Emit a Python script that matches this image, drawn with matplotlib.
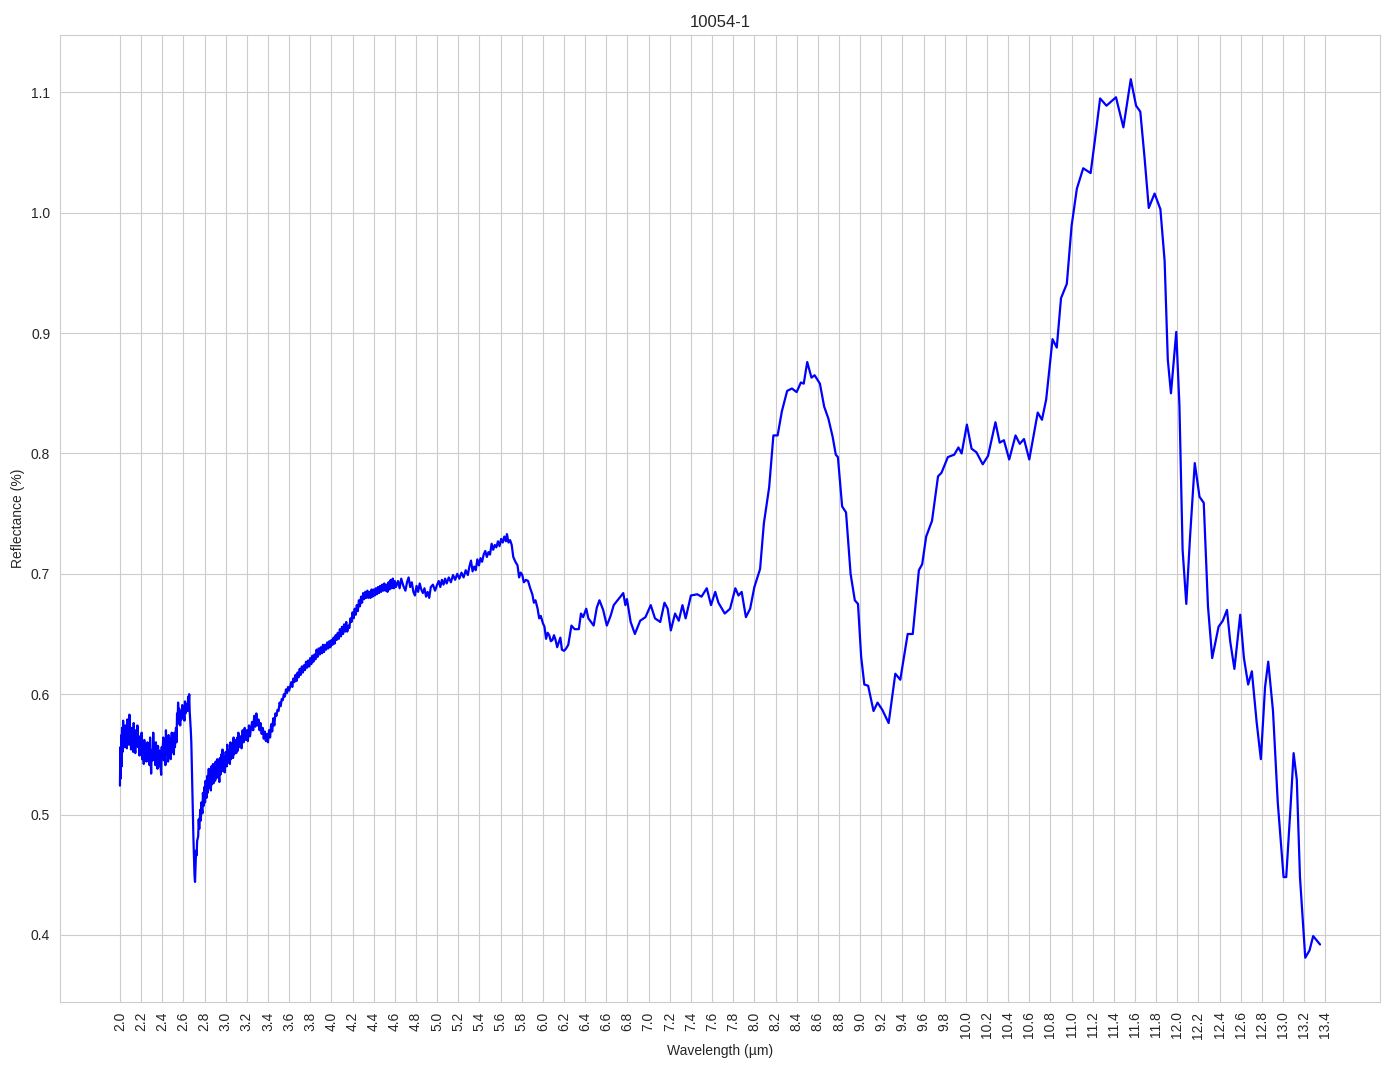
import numpy as np
import matplotlib
matplotlib.use("Agg")
import matplotlib.pyplot as plt
import seaborn as sns

# sample 10054-1, reflectance spectrum
# (wavelength um, reflectance) pairs, split by region
swir_noisy = [
    (2.000, 0.524), (2.004, 0.556), (2.008, 0.530), (2.012, 0.566), (2.016, 0.540),
    (2.020, 0.572), (2.025, 0.552), (2.030, 0.578), (2.035, 0.560), (2.040, 0.570),
    (2.045, 0.556), (2.050, 0.574), (2.055, 0.562), (2.060, 0.568), (2.065, 0.555),
    (2.070, 0.579), (2.075, 0.563), (2.080, 0.571), (2.085, 0.558), (2.090, 0.583),
    (2.095, 0.560), (2.100, 0.566), (2.105, 0.554), (2.110, 0.572), (2.115, 0.561),
    (2.120, 0.568), (2.125, 0.552), (2.130, 0.576), (2.135, 0.560), (2.140, 0.565),
    (2.145, 0.551), (2.150, 0.570), (2.160, 0.558), (2.165, 0.574), (2.170, 0.556),
    (2.180, 0.565), (2.185, 0.549), (2.190, 0.562), (2.200, 0.552), (2.205, 0.568),
    (2.210, 0.546), (2.220, 0.560), (2.225, 0.542), (2.230, 0.562), (2.240, 0.550),
    (2.245, 0.558), (2.250, 0.544), (2.260, 0.560), (2.265, 0.545), (2.270, 0.556),
    (2.280, 0.541), (2.285, 0.564), (2.290, 0.548), (2.295, 0.534), (2.300, 0.553),
    (2.310, 0.545), (2.315, 0.568), (2.320, 0.550), (2.330, 0.556), (2.335, 0.541),
    (2.340, 0.560), (2.350, 0.544), (2.355, 0.538), (2.360, 0.557), (2.370, 0.540),
    (2.375, 0.553), (2.380, 0.545), (2.390, 0.533), (2.395, 0.556), (2.400, 0.548),
    (2.410, 0.564), (2.415, 0.545), (2.420, 0.557), (2.430, 0.541), (2.435, 0.570),
    (2.440, 0.550), (2.450, 0.562), (2.455, 0.544), (2.460, 0.566), (2.470, 0.549),
    (2.475, 0.563), (2.480, 0.546), (2.490, 0.568), (2.495, 0.552), (2.500, 0.566),
    (2.510, 0.550), (2.515, 0.568), (2.520, 0.556), (2.530, 0.572), (2.535, 0.560),
    (2.540, 0.584), (2.545, 0.575), (2.550, 0.593), (2.555, 0.578), (2.560, 0.588),
    (2.570, 0.574), (2.575, 0.586), (2.580, 0.579), (2.590, 0.591), (2.595, 0.580),
    (2.600, 0.588), (2.610, 0.578), (2.615, 0.594), (2.620, 0.584), (2.630, 0.592),
    (2.640, 0.586), (2.645, 0.598), (2.650, 0.590), (2.655, 0.600), (2.660, 0.585),
    (2.670, 0.570), (2.675, 0.560), (2.685, 0.520), (2.695, 0.480), (2.705, 0.450),
    (2.710, 0.444),
]

recovery = [
    (2.715, 0.458), (2.720, 0.470), (2.725, 0.466), (2.730, 0.478), (2.740, 0.482),
    (2.745, 0.496), (2.750, 0.488), (2.760, 0.504), (2.765, 0.495), (2.770, 0.510),
    (2.780, 0.501), (2.785, 0.518), (2.790, 0.507), (2.800, 0.523), (2.805, 0.510),
    (2.810, 0.528), (2.820, 0.514), (2.825, 0.532), (2.830, 0.518), (2.840, 0.538),
    (2.845, 0.522), (2.850, 0.532), (2.860, 0.520), (2.865, 0.540), (2.870, 0.525),
    (2.880, 0.542), (2.885, 0.526), (2.890, 0.538), (2.900, 0.528), (2.905, 0.544),
    (2.910, 0.530), (2.920, 0.546), (2.925, 0.531), (2.930, 0.542), (2.940, 0.527),
    (2.945, 0.547), (2.950, 0.533), (2.960, 0.550), (2.965, 0.536), (2.970, 0.554),
    (2.980, 0.538), (2.985, 0.548), (2.990, 0.535), (3.000, 0.552), (3.010, 0.540),
    (3.015, 0.558), (3.020, 0.543), (3.030, 0.553), (3.040, 0.542), (3.045, 0.560),
    (3.050, 0.546), (3.060, 0.558), (3.070, 0.547), (3.075, 0.564), (3.080, 0.550),
    (3.090, 0.562), (3.100, 0.551), (3.110, 0.564), (3.115, 0.553), (3.120, 0.568),
    (3.130, 0.556), (3.140, 0.565), (3.150, 0.555), (3.160, 0.570), (3.170, 0.560),
    (3.180, 0.572), (3.190, 0.562), (3.200, 0.570), (3.210, 0.561), (3.220, 0.574),
    (3.230, 0.565), (3.240, 0.572), (3.250, 0.577), (3.260, 0.570), (3.270, 0.582),
    (3.280, 0.573), (3.290, 0.584), (3.300, 0.574), (3.310, 0.579), (3.320, 0.570),
    (3.330, 0.576), (3.340, 0.567), (3.350, 0.572), (3.360, 0.563), (3.370, 0.569),
    (3.380, 0.561), (3.390, 0.567), (3.400, 0.560),
]

rise = [
    (3.410, 0.570), (3.420, 0.564), (3.430, 0.575), (3.440, 0.569), (3.450, 0.580),
    (3.460, 0.574), (3.470, 0.584), (3.480, 0.582), (3.490, 0.587), (3.500, 0.586),
    (3.510, 0.593), (3.520, 0.590), (3.530, 0.596), (3.540, 0.595), (3.550, 0.600),
    (3.560, 0.598), (3.570, 0.604), (3.580, 0.601), (3.590, 0.606), (3.600, 0.603),
    (3.620, 0.610), (3.630, 0.606), (3.640, 0.613), (3.650, 0.610), (3.660, 0.616),
    (3.670, 0.611), (3.680, 0.618), (3.690, 0.614), (3.700, 0.621), (3.710, 0.616),
    (3.720, 0.623), (3.730, 0.618), (3.740, 0.624), (3.750, 0.620), (3.760, 0.627),
    (3.770, 0.622), (3.780, 0.628), (3.790, 0.623), (3.800, 0.630), (3.810, 0.625),
    (3.820, 0.632), (3.830, 0.627), (3.840, 0.633), (3.850, 0.629), (3.860, 0.637),
    (3.870, 0.631), (3.880, 0.638), (3.890, 0.633), (3.900, 0.639), (3.910, 0.634),
    (3.920, 0.641), (3.930, 0.635), (3.940, 0.641), (3.950, 0.637), (3.960, 0.643),
    (3.970, 0.638), (3.980, 0.644), (3.990, 0.639), (4.000, 0.645), (4.010, 0.641),
    (4.020, 0.647), (4.030, 0.642), (4.040, 0.649), (4.050, 0.645), (4.060, 0.651),
    (4.070, 0.646), (4.080, 0.654), (4.090, 0.648), (4.100, 0.656), (4.110, 0.650),
    (4.120, 0.658), (4.130, 0.652), (4.140, 0.660), (4.150, 0.652), (4.160, 0.657),
    (4.170, 0.655), (4.180, 0.663), (4.190, 0.660), (4.200, 0.668), (4.210, 0.663),
    (4.220, 0.671), (4.230, 0.666), (4.240, 0.674), (4.250, 0.669), (4.260, 0.678),
    (4.270, 0.673), (4.280, 0.681), (4.290, 0.676), (4.300, 0.684), (4.310, 0.679),
    (4.320, 0.685), (4.330, 0.680), (4.340, 0.686), (4.350, 0.680), (4.360, 0.685),
    (4.370, 0.680), (4.380, 0.687), (4.390, 0.681), (4.400, 0.687), (4.410, 0.682),
    (4.420, 0.688), (4.430, 0.683), (4.440, 0.689), (4.450, 0.684), (4.460, 0.690),
    (4.470, 0.685), (4.480, 0.691), (4.490, 0.686), (4.500, 0.692), (4.510, 0.686),
    (4.520, 0.691), (4.530, 0.685), (4.540, 0.693), (4.550, 0.687), (4.560, 0.695),
    (4.570, 0.688), (4.580, 0.696), (4.590, 0.688), (4.600, 0.694),
]

plateau = [
    (4.610, 0.689), (4.630, 0.694), (4.645, 0.688), (4.660, 0.696), (4.680, 0.690),
    (4.700, 0.686), (4.715, 0.693), (4.730, 0.697), (4.745, 0.689), (4.760, 0.693),
    (4.775, 0.685), (4.790, 0.682), (4.805, 0.690), (4.820, 0.685), (4.835, 0.692),
    (4.850, 0.687), (4.865, 0.684), (4.880, 0.688), (4.895, 0.681), (4.910, 0.685),
    (4.925, 0.680), (4.940, 0.689), (4.960, 0.691), (4.980, 0.686), (5.000, 0.691),
    (5.015, 0.694), (5.030, 0.689), (5.045, 0.695), (5.060, 0.691), (5.075, 0.696),
    (5.090, 0.692), (5.110, 0.697), (5.130, 0.693), (5.150, 0.699), (5.170, 0.695),
    (5.190, 0.700), (5.210, 0.696), (5.230, 0.701), (5.250, 0.697), (5.270, 0.703),
    (5.290, 0.699), (5.305, 0.706), (5.320, 0.711), (5.335, 0.702), (5.350, 0.706),
    (5.365, 0.703), (5.380, 0.712), (5.395, 0.707), (5.410, 0.713), (5.425, 0.710),
    (5.440, 0.716), (5.455, 0.719), (5.470, 0.714), (5.485, 0.718), (5.500, 0.716),
    (5.515, 0.725), (5.530, 0.720), (5.545, 0.724), (5.560, 0.722), (5.575, 0.727),
    (5.590, 0.723), (5.605, 0.729), (5.620, 0.726), (5.635, 0.731), (5.650, 0.727),
    (5.660, 0.733), (5.675, 0.726), (5.690, 0.728), (5.705, 0.724), (5.720, 0.714),
    (5.740, 0.710), (5.760, 0.707), (5.775, 0.697), (5.790, 0.701), (5.805, 0.699),
    (5.820, 0.693), (5.840, 0.695), (5.860, 0.694), (5.880, 0.688), (5.900, 0.683),
    (5.915, 0.676), (5.930, 0.678), (5.950, 0.671), (5.965, 0.663), (5.980, 0.665),
    (6.000, 0.659), (6.015, 0.656), (6.030, 0.646), (6.045, 0.651), (6.060, 0.649),
    (6.075, 0.644), (6.090, 0.645), (6.105, 0.649), (6.120, 0.645), (6.135, 0.639),
    (6.150, 0.643), (6.165, 0.647), (6.180, 0.637), (6.200, 0.636), (6.220, 0.638),
    (6.240, 0.641),
]

midir = [
    (6.270, 0.657), (6.300, 0.654), (6.340, 0.654), (6.360, 0.667), (6.380, 0.664),
    (6.410, 0.671), (6.430, 0.663), (6.480, 0.657), (6.510, 0.672), (6.535, 0.678),
    (6.570, 0.670), (6.605, 0.657), (6.640, 0.665), (6.670, 0.674), (6.715, 0.679),
    (6.760, 0.684), (6.780, 0.674), (6.795, 0.679), (6.830, 0.660), (6.870, 0.650),
    (6.920, 0.661), (6.970, 0.664), (7.020, 0.674), (7.060, 0.663), (7.110, 0.660),
    (7.150, 0.676), (7.180, 0.671), (7.210, 0.653), (7.250, 0.667), (7.285, 0.661),
    (7.320, 0.674), (7.350, 0.663), (7.400, 0.682), (7.460, 0.683), (7.500, 0.681),
    (7.550, 0.688), (7.590, 0.674), (7.630, 0.685), (7.660, 0.676), (7.720, 0.667),
    (7.770, 0.671), (7.820, 0.688), (7.850, 0.682), (7.880, 0.685), (7.920, 0.664),
    (7.960, 0.671), (8.000, 0.689),
]

reststrahlen = [
    (8.054, 0.704), (8.090, 0.742), (8.140, 0.772), (8.180, 0.815), (8.220, 0.815),
    (8.260, 0.835), (8.310, 0.852), (8.355, 0.854), (8.400, 0.851), (8.440, 0.859),
    (8.467, 0.858), (8.500, 0.876), (8.540, 0.863), (8.570, 0.865), (8.620, 0.858),
    (8.660, 0.839), (8.700, 0.829), (8.740, 0.814), (8.770, 0.799), (8.790, 0.797),
    (8.830, 0.756), (8.867, 0.751), (8.910, 0.700), (8.950, 0.678), (8.980, 0.675),
    (9.010, 0.631), (9.040, 0.608), (9.076, 0.607), (9.127, 0.586), (9.165, 0.593),
    (9.210, 0.587), (9.270, 0.576), (9.333, 0.617), (9.380, 0.612), (9.450, 0.650),
    (9.498, 0.650), (9.556, 0.703), (9.587, 0.708), (9.625, 0.731), (9.680, 0.744),
    (9.737, 0.781), (9.770, 0.784), (9.830, 0.797), (9.890, 0.799), (9.930, 0.805),
    (9.960, 0.800), (10.010, 0.824), (10.054, 0.804), (10.100, 0.801), (10.160, 0.791),
    (10.210, 0.798), (10.280, 0.826), (10.320, 0.809), (10.360, 0.811), (10.410, 0.795),
    (10.470, 0.815), (10.510, 0.808), (10.550, 0.812), (10.600, 0.795), (10.680, 0.834),
    (10.720, 0.828),
]

far_ir = [
    (10.760, 0.845), (10.820, 0.895), (10.860, 0.888), (10.900, 0.929), (10.955, 0.941),
    (11.000, 0.989), (11.050, 1.020), (11.110, 1.037), (11.180, 1.033), (11.220, 1.060),
    (11.270, 1.095), (11.330, 1.089), (11.420, 1.096), (11.490, 1.071), (11.560, 1.111),
    (11.610, 1.089), (11.650, 1.084), (11.690, 1.046), (11.730, 1.004), (11.785, 1.016),
    (11.840, 1.003), (11.880, 0.960), (11.910, 0.878), (11.940, 0.850), (11.990, 0.901),
    (12.020, 0.840), (12.050, 0.720), (12.085, 0.675), (12.120, 0.730), (12.165, 0.792),
    (12.210, 0.764), (12.250, 0.759), (12.290, 0.673), (12.330, 0.630), (12.390, 0.656),
    (12.430, 0.661), (12.470, 0.670), (12.500, 0.644), (12.540, 0.621), (12.595, 0.666),
    (12.630, 0.630), (12.670, 0.608), (12.705, 0.619), (12.750, 0.577), (12.790, 0.546),
    (12.830, 0.606), (12.860, 0.627), (12.905, 0.586), (12.950, 0.510), (13.005, 0.448),
    (13.030, 0.448), (13.070, 0.505), (13.100, 0.551), (13.130, 0.529), (13.160, 0.448),
    (13.210, 0.381), (13.250, 0.387), (13.285, 0.399), (13.350, 0.392),
]

segments = [swir_noisy, recovery, rise, plateau, midir, reststrahlen, far_ir]
wavelength = [w for seg in segments for w, _ in seg]
reflectance = [r for seg in segments for _, r in seg]

tick_positions = np.round(np.arange(2.0, 13.41, 0.2), 1)

sns.set_style("whitegrid")
plt.rcParams['font.family'] = ['Liberation Sans', 'DejaVu Sans']

fig, ax = plt.subplots(figsize=(13.94, 10.69), dpi=100)

ax.plot(wavelength, reflectance, color="blue", linewidth=1.6)

ax.set_title("10054-1")
ax.set_xlabel("Wavelength (µm)")
ax.set_ylabel("Reflectance (%)")
ax.set_xticks(tick_positions)
ax.set_xticklabels([f"{t:.1f}" for t in tick_positions], rotation=90)

plt.subplots_adjust(left=0.043, right=0.99, top=0.967, bottom=0.063)
plt.savefig("out.png", dpi=100)
